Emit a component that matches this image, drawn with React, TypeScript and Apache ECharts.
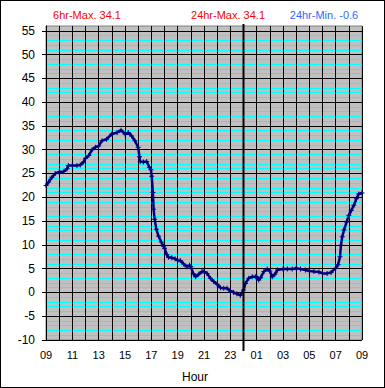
import React, { useEffect, useRef } from "react";
import * as echarts from "echarts";

// hours elapsed since 09:00
const hours = [0,0.2,0.45,0.7,1,1.35,1.6,1.7,2,2.35,2.6,2.85,3,3.25,3.5,3.75,4,4.25,4.6,5,5.4,5.7,6,6.25,6.5,6.75,7,7.1,7.15,7.4,7.65,7.85,7.97,8.03,8.12,8.17,8.25,8.38,8.55,8.75,8.93,9,9.18,9.3,9.55,9.8,10,10.2,10.45,10.7,10.9,11,11.18,11.36,11.6,11.85,12,12.23,12.48,12.74,13,13.25,13.5,13.75,14,14.25,14.5,14.76,15,15.15,15.4,15.66,15.9,16,16.15,16.3,16.55,16.8,17,17.18,17.38,17.58,18,18.33,18.7,19,19.33,19.7,20,20.35,20.73,21,21.35,21.65,22,22.18,22.33,22.4,22.5,22.63,22.83,23,23.18,23.38,23.58,23.75,24];
const temps = [22.5,23.2,24.2,25.0,25.3,25.4,26.0,26.7,26.7,26.7,26.8,27.4,28.2,28.8,30.0,30.5,30.8,31.9,32.2,33.3,33.6,34.1,33.3,33.6,32.9,31.9,30.5,28.5,27.5,27.4,27.5,26.3,25.8,24.4,21.0,17.5,15.4,13.3,11.8,10.6,9.7,9.3,7.9,7.4,7.3,7.1,6.7,6.7,6.0,5.4,5.7,5.4,4.0,3.3,3.8,4.4,4.4,4.0,3.0,2.3,1.7,1.0,0.9,0.9,0.3,0.0,-0.3,-0.6,0.5,1.9,3.0,3.3,3.3,3.3,2.6,3.1,4.4,4.9,4.5,3.3,3.8,4.7,4.9,4.9,4.9,5.1,4.9,4.7,4.5,4.4,4.3,4.0,4.0,4.2,5.1,5.8,7.5,9.9,11.7,13.1,14.8,16.2,17.2,18.3,19.7,20.7,20.9];

const startHour = 9;
const yLabelValues = [-10,-5,0,5,10,15,20,25,30,35,40,45,50,55];
const midnightOffset = 15;

const headerTexts = [
  { text: "6hr-Max. 34.1", color: "#ff0000" },
  { text: "24hr-Max. 34.1", color: "#ff0000" },
  { text: "24hr-Min. -0.6", color: "#3366ff" },
];
const headerCenters = [87, 228, 324];

const FONT = "'Liberation Sans', Arial, sans-serif";

export default function App() {
  const ref = useRef<HTMLDivElement>(null);
  useEffect(() => {
    if (!ref.current) return;
    const chart = echarts.init(ref.current, null, { renderer: "svg" });
    const data = hours.map((h, i) => [h, temps[i]]);
    chart.setOption({
      animation: false,
      backgroundColor: "#ffffff",
      textStyle: { fontFamily: FONT },
      grid: {
        left: 46,
        right: 23,
        top: 26,
        bottom: 46,
        show: true,
        backgroundColor: "#c0c0c0",
        borderColor: "#808080",
        borderWidth: 1,
      },
      xAxis: {
        type: "value",
        position: "bottom",
        min: 0,
        max: 24,
        interval: 1,
        name: "Hour",
        nameLocation: "middle",
        nameGap: 31,
        nameTextStyle: { color: "#000", fontSize: 12, fontFamily: FONT, padding: [0, 18, 0, 0] },
        axisLine: { show: true, lineStyle: { color: "#000", width: 1 } },
        axisTick: { show: true, length: 3, lineStyle: { color: "#000" } },
        axisLabel: {
          color: "#000",
          fontSize: 11,
          fontFamily: FONT,
          margin: 9,
          showMinLabel: true,
          showMaxLabel: true,
          formatter: (v: number) =>
            v % 2 === 0 ? String((startHour + v) % 24).padStart(2, "0") : "",
        },
        splitLine: { show: true, lineStyle: { color: "#000", width: 1 } },
      },
      yAxis: [
        {
          type: "value",
          position: "left",
          min: -10,
          max: 56,
          interval: 1,
          axisLine: { show: true, lineStyle: { color: "#000", width: 1 } },
          axisTick: { show: false },
          axisLabel: { show: false },
          splitLine: {
            show: true,
            showMaxLine: false,
            lineStyle: { color: ["#000000", "#00ffff", "#00ffff", "#00ffff", "#00ffff"], width: 1 },
          },
        },
        {
          type: "value",
          position: "left",
          offset: 0,
          min: -10,
          max: 56,
          interval: 5,
          axisLine: { show: false },
          axisTick: { show: true, customValues: yLabelValues, length: 4, lineStyle: { color: "#000" } },
          axisLabel: {
            customValues: yLabelValues,
            color: "#000",
            fontSize: 12,
            fontFamily: FONT,
            margin: 11,
          },
          splitLine: { show: false },
        },
      ],
      series: [
        {
          type: "line",
          yAxisIndex: 0,
          data,
          color: "#000080",
          lineStyle: { color: "#000080", width: 2.5 },
          symbol: "path://M2,0H3V2H5V3H3V5H2V3H0V2H2Z",
          symbolSize: 5,
          showAllSymbol: true,
          itemStyle: { color: "#000080" },
          z: 5,
        },
      ],
    });
    const x = chart.convertToPixel({ xAxisIndex: 0 }, midnightOffset) as number;
    const yTop = (chart.convertToPixel({ yAxisIndex: 0 }, 56) as number) - 2;
    const yBot = (chart.convertToPixel({ yAxisIndex: 0 }, -10) as number) + 11;
    chart.setOption({
      graphic: [
        {
          type: "line",
          shape: { x1: x, y1: yTop, x2: x, y2: yBot },
          style: { stroke: "#000", lineWidth: 2 },
          z: 10,
        },
        ...headerTexts.map((t, i) => ({
          type: "text",
          x: headerCenters[i],
          y: 15,
          style: {
            text: t.text,
            fill: t.color,
            font: `11px ${FONT}`,
            align: "center",
            verticalAlign: "middle",
          },
        })),
      ],
    });
    return () => chart.dispose();
  }, []);
  return (
    <div style={{ position: "absolute", left: 0, top: 0, width: 385, height: 388, background: "#fff" }}>
      <div ref={ref} style={{ position: "absolute", left: 0, top: 0, width: 385, height: 388 }} />
      <div
        style={{
          position: "absolute",
          left: 0,
          top: 0,
          width: 385,
          height: 388,
          border: "1px solid #000",
          boxSizing: "border-box",
          pointerEvents: "none",
        }}
      />
    </div>
  );
}
